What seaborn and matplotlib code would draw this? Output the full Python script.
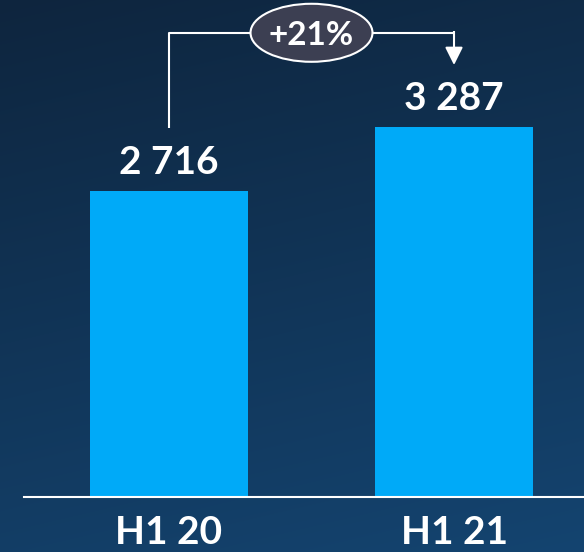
import numpy as np
import pandas as pd
import matplotlib
matplotlib.use("Agg")
import matplotlib.pyplot as plt
from matplotlib.patches import Ellipse
import seaborn as sns

# Half-year results
periods = ["H1 20", "H1 21"]
revenue = [2716, 3287]

sns.set_theme(style="white")
plt.rcParams["font.family"] = ["Lato", "DejaVu Sans"]

W, H, DPI = 584, 552, 100
fig = plt.figure(figsize=(W / DPI, H / DPI), dpi=DPI)

# Dark navy gradient backdrop
bg = fig.add_axes([0, 0, 1, 1], zorder=0)
yy = np.linspace(0, 1, H)[:, None]
xx = np.linspace(0, 1, W)[None, :]
t = 0.8 * yy + 0.2 * xx
c_top = np.array([0x0e, 0x25, 0x3e]) / 255
c_bot = np.array([0x14, 0x44, 0x70]) / 255
img = c_top + (c_bot - c_top) * t[..., None]
bg.imshow(img, aspect="auto", extent=[0, 1, 0, 1], origin="upper")
bg.axis("off")

# Main axes
base_px = 497
ax = fig.add_axes([24 / W, (H - base_px) / H, 1 - 24 / W, base_px / H], zorder=1)
ax.patch.set_alpha(0)

df = pd.DataFrame({"period": periods, "revenue": revenue})
sns.barplot(data=df, x="period", y="revenue", color="#00aaf8", saturation=1,
            width=0.554, linewidth=0, ax=ax)

ax.set_ylim(0, 4411)
ax.set_xlim(-0.5088, 1.4561)
ax.set_xlabel("")
ax.set_ylabel("")
ax.set_yticks([])
for side in ("top", "left", "right"):
    ax.spines[side].set_visible(False)
ax.spines["bottom"].set_color("white")
ax.spines["bottom"].set_linewidth(1.5)
ax.tick_params(axis="x", length=0, pad=13, labelsize=28, labelcolor="white")
for lbl in ax.get_xticklabels():
    lbl.set_fontweight("bold")

# Value labels above the bars
for i, v in enumerate(revenue):
    ax.annotate(f"{v:,}".replace(",", " "), (i, v), xytext=(0, 12),
                textcoords="offset points", ha="center", va="baseline",
                color="white", fontsize=28, fontweight="bold")

# Growth bracket from the first bar to the second
y_left = revenue[0] + 560
y_top = 4118
y_tip = revenue[1] + 547
ax.plot([0, 0, 1, 1], [y_left, y_top, y_top, y_tip + 300], color="white",
        lw=1.5, clip_on=False, zorder=3, solid_capstyle="butt")
ax.annotate("", xy=(1, y_tip), xytext=(1, y_top),
            arrowprops=dict(arrowstyle="-|>,head_length=1.08,head_width=0.54",
                            mutation_scale=10, color="white", lw=1.5,
                            shrinkA=0, shrinkB=0),
            annotation_clip=False, zorder=3)

growth = revenue[1] / revenue[0] - 1
ell_y = 4120
ax.add_patch(Ellipse((0.5, ell_y), width=0.428, height=515,
                     facecolor="#3c3f52", edgecolor="white", lw=1.5,
                     zorder=4, clip_on=False))
ax.text(0.5, ell_y - 20, f"+{growth:.0%}", ha="center", va="center",
        color="white", fontsize=24, fontweight="bold", zorder=5)

fig.savefig("out.png", dpi=DPI)
